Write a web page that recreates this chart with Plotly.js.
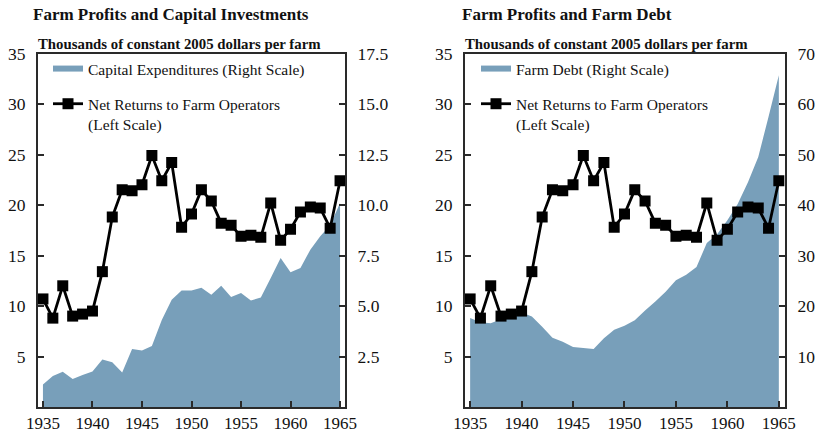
<!DOCTYPE html>
<html>
<head>
<meta charset="utf-8">
<script src="https://cdn.plot.ly/plotly-3.0.1.min.js"></script>
<style>
  html, body { margin: 0; padding: 0; background: #fff; }
  #chart { width: 819px; height: 437px; }
</style>
</head>
<body>
<div id="chart"></div>
<script>
// ---- Data ----
const years = [1935, 1936, 1937, 1938, 1939, 1940, 1941, 1942, 1943, 1944,
               1945, 1946, 1947, 1948, 1949, 1950, 1951, 1952, 1953, 1954,
               1955, 1956, 1957, 1958, 1959, 1960, 1961, 1962, 1963, 1964, 1965];

// Net returns to farm operators (left scale, thousands of 2005 $ per farm)
const netReturns = [10.7, 8.8, 12.0, 9.0, 9.2, 9.5, 13.4, 18.8, 21.5, 21.4,
                    22.0, 24.9, 22.4, 24.2, 17.8, 19.1, 21.5, 20.4, 18.2, 18.0,
                    16.9, 17.0, 16.8, 20.2, 16.5, 17.6, 19.3, 19.8, 19.7, 17.7, 22.4];

// Capital expenditures (right scale of left panel)
const capitalExp = [1.11, 1.54, 1.74, 1.38, 1.59, 1.76, 2.35, 2.22, 1.71, 2.87,
                    2.80, 3.02, 4.31, 5.31, 5.77, 5.77, 5.90, 5.56, 6.00, 5.44,
                    5.64, 5.27, 5.42, 6.39, 7.38, 6.67, 6.88, 7.79, 8.45, 9.00, 10.1];

// Farm debt (right scale of right panel)
const farmDebt = [17.6, 16.8, 16.6, 17.4, 17.9, 18.7, 17.9, 15.9, 13.7, 12.9,
                  11.9, 11.7, 11.5, 13.6, 15.3, 16.1, 17.2, 19.1, 20.9, 22.8,
                  25.1, 26.2, 27.7, 32.5, 34.2, 37.0, 40.2, 44.5, 49.5, 57.5, 65.7];

const xTickVals = [1935, 1940, 1945, 1950, 1955, 1960, 1965];
const leftTickVals = [5, 10, 15, 20, 25, 30, 35];
const capTickVals = [2.5, 5.0, 7.5, 10.0, 12.5, 15.0, 17.5];
const capTickText = ['2.5', '5.0', '7.5', '10.0', '12.5', '15.0', '17.5'];
const debtTickVals = [10, 20, 30, 40, 50, 60, 70];

const panelTitles = ['Farm Profits and Capital Investments', 'Farm Profits and Farm Debt'];
const unitsLabel = 'Thousands of constant 2005 dollars per farm';
const seriesNames = {
  cap: 'Capital Expenditures (Right Scale)',
  debt: 'Farm Debt (Right Scale)',
  net: 'Net Returns to Farm Operators<br>(Left Scale)'
};

// ---- Styling ----
const W = 819, H = 437;
const FONT = 'Liberation Serif, Times New Roman, serif';
const fillColor = 'rgb(120,159,186)';
const axisColor = '#2a2a2a';
const textColor = '#111';

const px = v => v / W;
const py = v => (H - v) / H;

const yDom = [py(407), py(53.5)];
const xDom1 = [px(38), px(345)];
const xDom2 = [px(465), px(785)];

function xAxis(domain, anchor, range) {
  return {
    domain: domain, anchor: anchor, range: range,
    tickvals: xTickVals, ticks: 'inside', ticklen: 6, tickwidth: 2, tickcolor: axisColor,
    showline: true, linecolor: axisColor, linewidth: 2, mirror: true,
    showgrid: false, zeroline: false,
    tickfont: { family: FONT, size: 17, color: textColor },
    ticklabelstandoff: 0, fixedrange: true
  };
}
function yAxis(opts) {
  return Object.assign({
    domain: yDom, ticks: 'inside', ticklen: 6, tickwidth: 2, tickcolor: axisColor,
    showline: true, linecolor: axisColor, linewidth: 2,
    showgrid: false, zeroline: false,
    tickfont: { family: FONT, size: 17.5, color: textColor },
    ticklabelstandoff: 7, fixedrange: true
  }, opts);
}

const lineStyle = { color: '#000', width: 2.8 };
const markerStyle = { symbol: 'square', size: 11, color: '#000' };

const traces = [
  { x: years, y: capitalExp, type: 'scatter', mode: 'none', fill: 'tozeroy',
    fillcolor: fillColor, name: seriesNames.cap, xaxis: 'x', yaxis: 'y',
    legend: 'legend', legendgroup: 'a', hoverinfo: 'skip' },
  { x: years, y: netReturns, type: 'scatter', mode: 'lines+markers',
    line: lineStyle, marker: markerStyle, name: seriesNames.net,
    xaxis: 'x', yaxis: 'y2', legend: 'legend', legendgroup: 'b', hoverinfo: 'skip' },
  { x: years, y: farmDebt, type: 'scatter', mode: 'none', fill: 'tozeroy',
    fillcolor: fillColor, name: seriesNames.debt, xaxis: 'x2', yaxis: 'y3',
    legend: 'legend2', legendgroup: 'c', hoverinfo: 'skip' },
  { x: years, y: netReturns, type: 'scatter', mode: 'lines+markers',
    line: lineStyle, marker: markerStyle, name: seriesNames.net,
    xaxis: 'x2', yaxis: 'y4', legend: 'legend2', legendgroup: 'd', hoverinfo: 'skip' }
];

function legendAt(xPix) {
  return {
    x: px(xPix), xanchor: 'left', y: py(52), yanchor: 'top',
    font: { family: FONT, size: 15.5, color: textColor },
    bgcolor: 'rgba(0,0,0,0)', borderwidth: 0,
    traceorder: 'grouped', tracegroupgap: 12, valign: 'top',
    itemclick: false, itemdoubleclick: false
  };
}

function ann(text, xPix, yPix, size) {
  return { text: '<b>' + text + '</b>', xref: 'paper', yref: 'paper',
           x: px(xPix), y: py(yPix), xanchor: 'left', yanchor: 'middle',
           showarrow: false, font: { family: FONT, size: size, color: textColor } };
}

const layout = {
  width: W, height: H,
  margin: { l: 0, r: 0, t: 0, b: 0 },
  paper_bgcolor: '#fff', plot_bgcolor: 'rgba(0,0,0,0)',
  showlegend: true,
  xaxis: xAxis(xDom1, 'y', [1934.5, 1965.5]),
  yaxis: yAxis({ anchor: 'x', side: 'right', range: [0, 17.5],
                 tickvals: capTickVals, ticktext: capTickText }),
  yaxis2: yAxis({ anchor: 'x', side: 'left', overlaying: 'y', range: [0, 35],
                  tickvals: leftTickVals }),
  xaxis2: xAxis(xDom2, 'y3', [1934.5, 1965.6]),
  yaxis3: yAxis({ anchor: 'x2', side: 'right', range: [0, 70], tickvals: debtTickVals }),
  yaxis4: yAxis({ anchor: 'x2', side: 'left', overlaying: 'y3', range: [0, 35],
                  tickvals: leftTickVals }),
  legend: legendAt(48),
  legend2: legendAt(476),
  annotations: [
    ann(panelTitles[0], 31, 14, 17),
    ann(unitsLabel, 36, 44, 14.8),
    ann(panelTitles[1], 460, 14, 17),
    ann(unitsLabel, 463, 44, 14.8)
  ]
};

Plotly.newPlot('chart', traces, layout, { displayModeBar: false, staticPlot: true });
</script>
</body>
</html>
